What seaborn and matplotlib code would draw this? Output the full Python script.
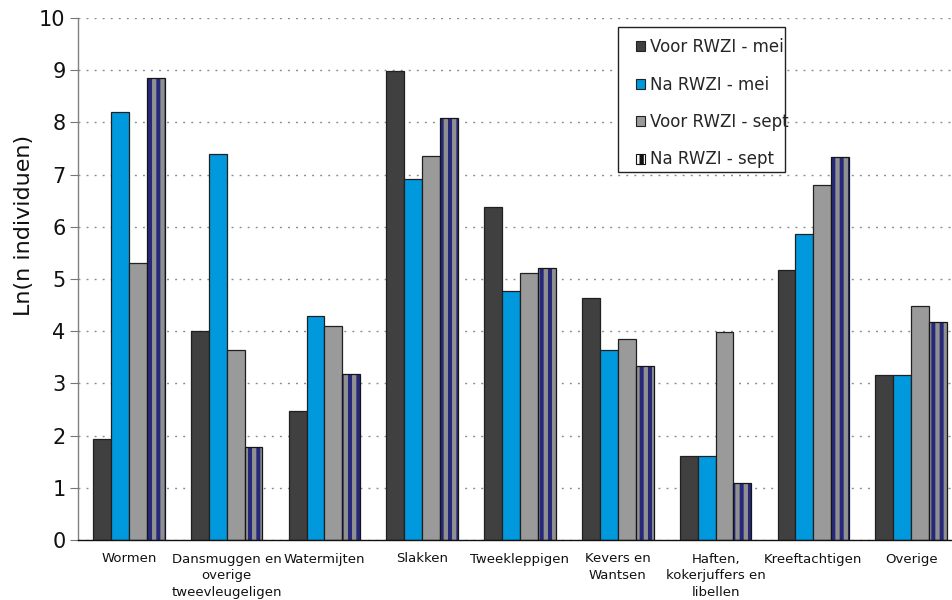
import matplotlib
matplotlib.use("Agg")
import matplotlib.pyplot as plt
import matplotlib.patches as mpatches
import numpy as np
import pandas as pd
import seaborn as sns

categories = [
    "Wormen",
    "Dansmuggen en\noverige\ntweevleugeligen",
    "Watermijten",
    "Slakken",
    "Tweekleppigen",
    "Kevers en\nWantsen",
    "Haften,\nkokerjuffers en\nlibellen",
    "Kreeftachtigen",
    "Overige",
]
series = ["Voor RWZI - mei", "Na RWZI - mei", "Voor RWZI - sept", "Na RWZI - sept"]

voor_mei = [1.93, 4.00, 2.47, 8.98, 6.38, 4.64, 1.60, 5.18, 3.16]
na_mei = [8.20, 7.39, 4.29, 6.92, 4.77, 3.64, 1.60, 5.87, 3.16]
voor_sept = [5.31, 3.64, 4.10, 7.36, 5.12, 3.85, 3.98, 6.80, 4.49]
na_sept = [8.85, 1.78, 3.18, 8.08, 5.22, 3.34, 1.10, 7.33, 4.17]

yticks = list(range(0, 11))

colors = ["#404040", "#0099dd", "#9a9a9a", "#26297a"]
stripe_color = "#909090"

df = pd.DataFrame({
    "groep": categories * 4,
    "serie": [s for s in series for _ in categories],
    "ln": voor_mei + na_mei + voor_sept + na_sept,
})

sns.set_theme(style="white")
plt.rcParams["font.family"] = ["DejaVu Sans"]
plt.rcParams["hatch.linewidth"] = 3.1

W, H = 953, 600
fig = plt.figure(figsize=(W / 100, H / 100), dpi=100)
ax = fig.add_axes([78 / W, 60 / H, 884 / W, 522 / H])

sns.barplot(data=df, x="groep", y="ln", hue="serie", order=categories,
            hue_order=series, palette=colors, width=0.733, gap=0,
            saturation=1, edgecolor="#202020", linewidth=0.9,
            legend=False, ax=ax, errorbar=None)

# vertical stripes on the last series: hatch first, then a plain outline on top
n = len(categories)
striped = ax.patches[3 * n:4 * n]
for p in striped:
    p.set_hatch("||")
    p.set_edgecolor(stripe_color)
    p.set_linewidth(0)
    outline = mpatches.Rectangle(p.get_xy(), p.get_width(), p.get_height(),
                                 fill=False, edgecolor="#151515", linewidth=0.9,
                                 zorder=p.get_zorder() + 0.1)
    ax.add_patch(outline)

ax.set_ylim(0, 10)
ax.set_xlim(-0.52, n - 0.48)
ax.set_yticks(yticks)
ax.set_yticklabels([str(t) for t in yticks], fontsize=15, color="#111111")
ax.set_ylabel("Ln(n individuen)", fontsize=16, color="#111111")
ax.yaxis.set_label_coords(-0.05, 0.603)
ax.set_xlabel("")

# category names centred, tick marks at category boundaries
ax.set_xticks(np.arange(n))
ax.set_xticklabels(categories, fontsize=9.5, color="#111111", linespacing=1.38)
ax.tick_params(axis="x", which="major", length=0, pad=9)
ax.set_xticks(np.arange(n - 1) + 0.5, minor=True)
ax.tick_params(axis="x", which="minor", length=5, width=0.8, color="#555555",
               direction="out")
ax.tick_params(axis="y", length=6, width=0.8, color="#777777", direction="out",
               left=True, pad=3)

ax.grid(axis="y", color="#8a8a8a", linestyle=(0, (1.4, 4.4)), linewidth=1.0)
ax.grid(axis="x", visible=False)
ax.set_axisbelow(True)

for side in ["top", "right"]:
    ax.spines[side].set_visible(False)
ax.spines["left"].set_color("#808080")
ax.spines["left"].set_linewidth(1.0)
ax.spines["bottom"].set_color("#111111")
ax.spines["bottom"].set_linewidth(1.0)

handles = []
for i, (s, c) in enumerate(zip(series, colors)):
    if i < 3:
        h = mpatches.Patch(facecolor=c, edgecolor="#222222", linewidth=0.8, label=s)
    else:
        h = mpatches.Patch(facecolor="white", edgecolor="#111111", hatch="|",
                           linewidth=0.8, label=s)
    handles.append(h)

# legend entries without their own frame; a fixed box is drawn behind them
box = mpatches.Rectangle((618 / W, 1 - 172 / H), 167 / W, 145 / H,
                         transform=fig.transFigure, facecolor="white",
                         edgecolor="#222222", linewidth=1.0, clip_on=False,
                         zorder=5)
ax.add_artist(box)
leg = ax.legend(handles=handles, loc="upper left",
                bbox_to_anchor=(636 / W, 1 - 38 / H),
                bbox_transform=fig.transFigure, fontsize=12,
                frameon=False, borderpad=0, labelspacing=1.17,
                handlelength=0.55, handleheight=0.55, handletextpad=0.3,
                borderaxespad=0)
leg.set_zorder(6)

fig.savefig("out.png", dpi=100)
